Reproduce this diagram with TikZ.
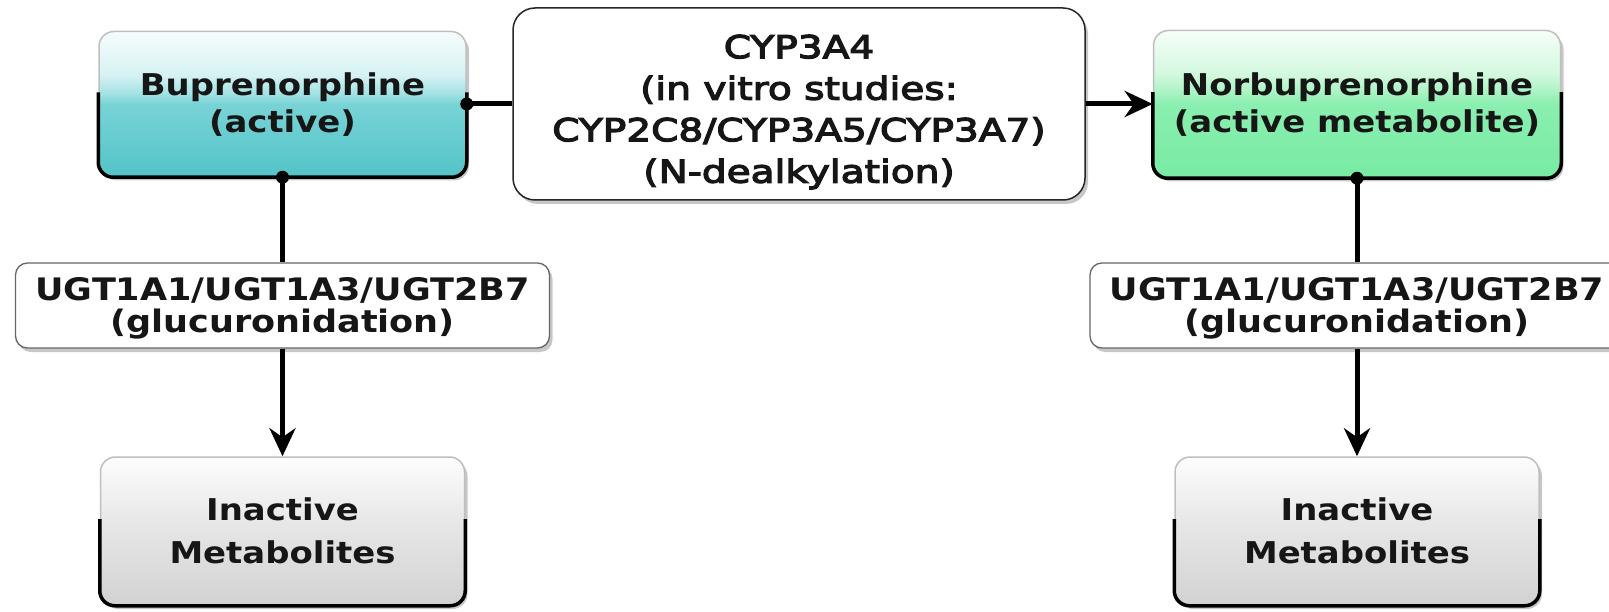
\documentclass[tikz,border=0pt]{standalone}
\usepackage{fontspec}
\newfontfamily\dvs[FakeStretch=1.13]{DejaVu Sans}
\newfontfamily\dvr[FakeStretch=1.24,RawFeature={embolden=4}]{DejaVu Sans}
\usetikzlibrary{arrows.meta,shadows,calc}
\definecolor{txt}{HTML}{161616}
\definecolor{bupA}{HTML}{52C4C8}
\definecolor{bupB}{HTML}{78D3D6}
\definecolor{bupC}{HTML}{A6E3E5}
\definecolor{bupD}{HTML}{D6F2F3}
\definecolor{bupE}{HTML}{F6FCFC}
\definecolor{norA}{HTML}{78EBA3}
\definecolor{norB}{HTML}{8AEFB0}
\definecolor{norC}{HTML}{A9F3C2}
\definecolor{norD}{HTML}{D2F8DE}
\definecolor{norE}{HTML}{F6FEF8}
\definecolor{inaA}{HTML}{D2D2D2}
\definecolor{inaB}{HTML}{E6E6E6}
\definecolor{inaC}{HTML}{FDFDFD}
\pgfdeclareverticalshading{bupshade}{100bp}{color(0bp)=(bupA); color(25bp)=(bupA); color(50bp)=(bupB); color(54bp)=(bupC); color(60bp)=(bupD); color(75bp)=(bupE); color(100bp)=(bupE)}
\pgfdeclareverticalshading{norshade}{100bp}{color(0bp)=(norA); color(25bp)=(norA); color(50bp)=(norB); color(54bp)=(norC); color(60bp)=(norD); color(75bp)=(norE); color(100bp)=(norE)}
\pgfdeclareverticalshading{inashade}{100bp}{color(0bp)=(inaA); color(25bp)=(inaA); color(52bp)=(inaB); color(75bp)=(inaC); color(100bp)=(inaC)}
\newcommand\lowedge[3]{\draw[line width=#3, black, rounded corners=15pt] ($(#1.north west)!#2!(#1.south west)$) |- (#1.south) -| ($(#1.north east)!#2!(#1.south east)$);}
\tikzset{
  every node/.style={text=txt, align=center, inner sep=0pt},
  softshadow/.style={drop shadow={shadow xshift=3pt, shadow yshift=-4pt, fill=black, opacity=.22}},
  colbox/.style={rounded corners=15pt, draw=gray!50, line width=1.5pt, softshadow},
  bupbox/.style={colbox, shading=bupshade, minimum width=367pt, minimum height=145pt},
  norbox/.style={colbox, shading=norshade, minimum width=407pt, minimum height=147pt},
  inabox/.style={colbox, shading=inashade, minimum width=364pt, minimum height=148pt},
  enzbox/.style={rounded corners=22pt, draw=black!85, line width=1.5pt, fill=white, softshadow, minimum width=572pt, minimum height=192pt},
  ugtbox/.style={rounded corners=12pt, draw=black!60, line width=1.3pt, fill=white, softshadow, minimum width=534pt, minimum height=85pt},
  drugtext/.style={font=\dvs\bfseries\fontsize{30}{37}\selectfont},
  inatext/.style={font=\dvs\bfseries\fontsize{30}{43}\selectfont},
  enztext/.style={font=\dvr\fontsize{31.5}{41.5}\selectfont},
  ugttext/.style={font=\dvs\bfseries\fontsize{31}{31.5}\selectfont},
  conn/.style={line width=5pt, black},
  arr/.style={conn, -{Stealth[length=28pt, width=26pt, inset=9pt]}},
  dot/.style={fill=black}
}
\begin{document}
\begin{tikzpicture}[x=1pt, y=-1pt]
\fill[white] (0,0) rectangle (1609,612);
\useasboundingbox (0,0) rectangle (1609,612);

\node[bupbox] (bup) at (282.5,104) {};
\node[enzbox] (cyp) at (799,104) {};
\node[norbox] (nor) at (1357,104) {};
\node[ugtbox] (ugtL) at (282.5,305.5) {};
\node[ugtbox] (ugtR) at (1357,305.5) {};
\node[inabox] (inL) at (282.5,531) {};
\node[inabox] (inR) at (1357,531) {};

\lowedge{bup}{.42}{3.5pt}
\lowedge{nor}{.42}{3.5pt}
\lowedge{inL}{.42}{3.5pt}
\lowedge{inR}{.42}{3.5pt}

\node[drugtext] (bupT) at ([yshift=-1pt]bup.center) {Buprenorphine\\(active)};
\node[enztext] (cypT) at ([yshift=-8pt]cyp.center) {CYP3A4\\(in vitro studies:\\CYP2C8/CYP3A5/CYP3A7)\\(N-dealkylation)};
\node[drugtext] (norT) at ([yshift=-1pt]nor.center) {Norbuprenorphine\\(active metabolite)};
\node[ugttext] (ugtLT) at ([yshift=-3pt]ugtL.center) {UGT1A1/UGT1A3/UGT2B7\\(glucuronidation)};
\node[ugttext] (ugtRT) at ([yshift=-3pt]ugtR.center) {UGT1A1/UGT1A3/UGT2B7\\(glucuronidation)};
\node[inatext] (inLT) at (inL.center) {Inactive\\Metabolites};
\node[inatext] (inRT) at (inR.center) {Inactive\\Metabolites};

\draw[conn] (bup.east) -- (cyp.west);
\draw[arr] (cyp.east) -- (nor.west);
\draw[conn] (bup.south) -- (ugtL.north);
\draw[arr] (ugtL.south) -- (inL.north);
\draw[conn] (nor.south) -- (ugtR.north);
\draw[arr] (ugtR.south) -- (inR.north);

\fill[dot] (bup.east) circle (6.5pt);
\fill[dot] (bup.south) circle (6.5pt);
\fill[dot] (nor.south) circle (6.5pt);
\end{tikzpicture}
\end{document}
